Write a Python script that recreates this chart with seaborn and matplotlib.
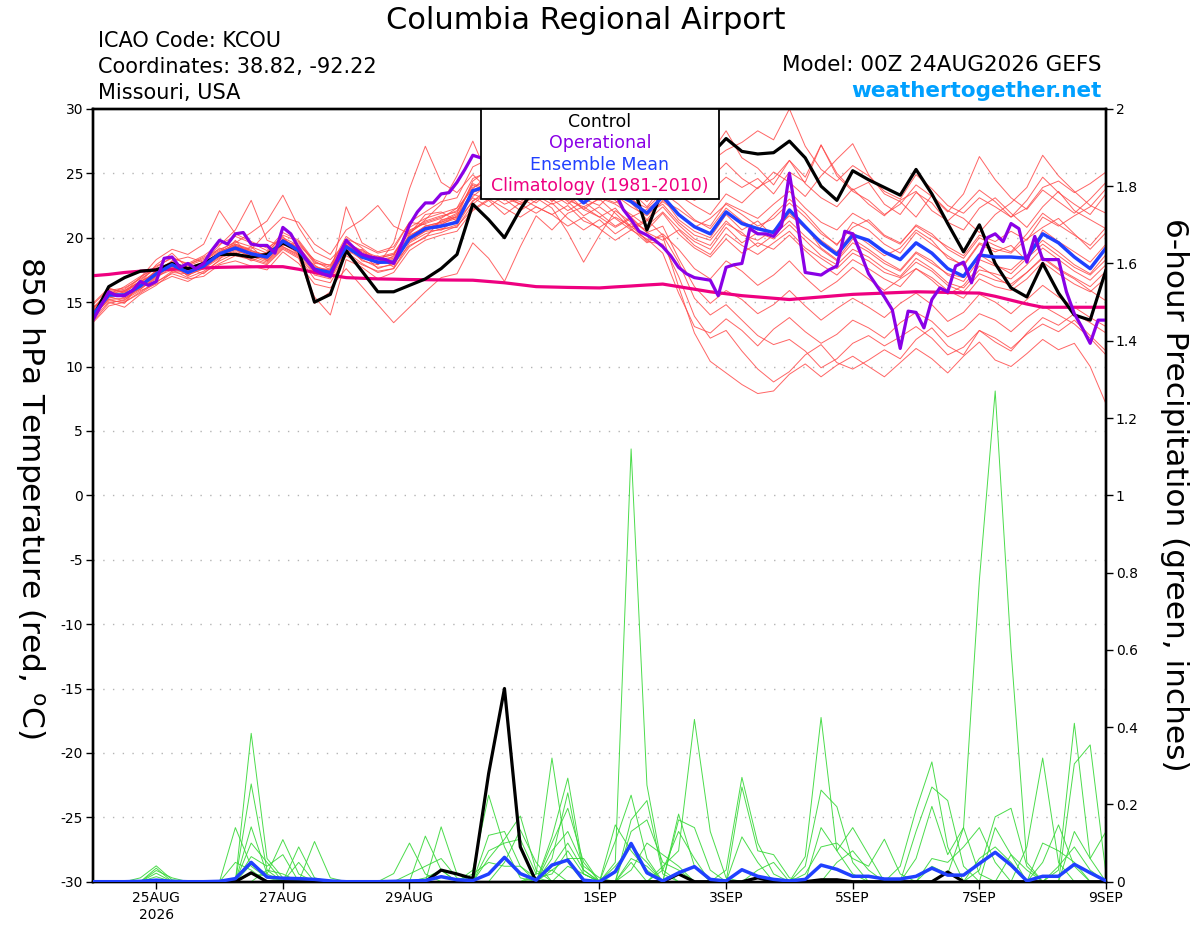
import numpy as np
import pandas as pd
import matplotlib
matplotlib.use("Agg")
import matplotlib.pyplot as plt
import seaborn as sns
from matplotlib.patches import Rectangle

# ------------------------------------------------------------------ data
run_start = "2026-08-24 00:00"
x_tick_dates = ["2026-08-25", "2026-08-27", "2026-08-29", "2026-09-01",
                "2026-09-03", "2026-09-05", "2026-09-07", "2026-09-09"]
x_tick_labels = ["25AUG\n2026", "27AUG", "29AUG", "1SEP", "3SEP", "5SEP", "7SEP", "9SEP"]
temp_ticks = [30, 25, 20, 15, 10, 5, 0, -5, -10, -15, -20, -25, -30]
temp_tick_labels = ["30", "25", "20", "15", "10", "5", "0", "-5", "-10", "-15", "-20", "-25", "-30"]
temp_grid = [25, 20, 15, 10, 5, 0, -5, -10, -15, -20, -25]
precip_ticks = [0, 0.2, 0.4, 0.6, 0.8, 1.0, 1.2, 1.4, 1.6, 1.8, 2.0]
precip_tick_labels = ["0", "0.2", "0.4", "0.6", "0.8", "1", "1.2", "1.4", "1.6", "1.8", "2"]

# 6-hourly control, ensemble mean, climatology (850 hPa temperature, C)
control_temp = [13.8, 16.2, 16.9, 17.4, 17.5, 18.0, 17.6, 18.0, 18.7, 18.7,
                18.5, 18.7, 19.6, 19.0, 15.0, 15.6, 19.0, 17.4, 15.8, 15.8,
                16.3, 16.8, 17.6, 18.7, 22.6, 21.4, 20.0, 22.2, 24.0, 25.0,
                24.6, 25.2, 25.6, 24.8, 24.6, 20.6, 23.8, 24.6, 25.6, 26.4,
                27.7, 26.7, 26.5, 26.6, 27.5, 26.2, 24.0, 22.9, 25.2, 24.5,
                23.9, 23.3, 25.3, 23.4, 21.1, 18.9, 21.0, 18.0, 16.1, 15.4,
                18.0, 15.7, 14.0, 13.6, 17.5]
mean_temp = [14.0, 15.55, 15.55, 16.25, 17.2, 17.9, 17.3, 17.8, 18.75, 19.2,
             18.75, 18.5, 19.75, 19.0, 17.55, 17.3, 19.3, 18.5, 18.1, 18.1,
             19.95, 20.7, 20.9, 21.2, 23.65, 24.0, 23.8, 24.2, 24.5, 24.0,
             23.8, 22.7, 23.6, 23.4, 22.8, 21.9, 23.2, 21.8, 20.85, 20.3,
             22.0, 21.1, 20.7, 20.4, 22.15, 20.85, 19.6, 18.7, 20.2, 19.8,
             18.9, 18.3, 19.6, 18.8, 17.6, 17.0, 18.65, 18.5, 18.5, 18.4,
             20.3, 19.6, 18.5, 17.6, 19.2]
clim_temp = [17.05, 17.15, 17.3, 17.4, 17.5, 17.55, 17.6, 17.65, 17.7, 17.72,
             17.74, 17.75, 17.75, 17.55, 17.3, 17.1, 16.9, 16.85, 16.8, 16.78,
             16.75, 16.74, 16.72, 16.71, 16.7, 16.6, 16.5, 16.35, 16.2, 16.17,
             16.14, 16.12, 16.1, 16.18, 16.25, 16.33, 16.4, 16.2, 16.0, 15.8,
             15.65, 15.5, 15.4, 15.3, 15.2, 15.3, 15.4, 15.5, 15.6, 15.65,
             15.7, 15.75, 15.8, 15.78, 15.75, 15.72, 15.7, 15.45, 15.15, 14.85,
             14.6, 14.6, 14.6, 14.6, 14.6]
# 3-hourly operational run
oper_temp = [13.6, 14.7, 15.8, 15.5, 15.5, 15.9, 16.6, 16.3, 16.6, 18.4,
             18.5, 17.7, 18.0, 17.6, 18.0, 19.0, 19.8, 19.5, 20.3, 20.4,
             19.5, 19.4, 19.4, 18.8, 20.8, 20.3, 19.2, 18.3, 17.5, 17.2,
             17.0, 18.5, 19.8, 19.2, 18.7, 18.5, 18.4, 18.3, 18.0, 19.5,
             21.0, 22.0, 22.7, 22.7, 23.4, 23.5, 24.3, 25.3, 26.4, 26.2,
             26.5, 26.8, 27.0, 26.4, 26.0, 26.6, 27.1, 27.4, 26.9, 26.3,
             25.8, 26.2, 25.7, 25.2, 24.8, 24.2, 23.5, 22.2, 21.4, 20.5,
             20.2, 19.8, 19.3, 18.6, 17.7, 17.2, 16.9, 16.8, 16.7, 15.5,
             17.7, 17.9, 18.0, 20.7, 20.3, 20.3, 20.1, 20.9, 25.0, 21.2,
             17.3, 17.2, 17.1, 17.5, 17.8, 20.5, 20.3, 18.8, 17.2, 16.3,
             15.4, 14.4, 11.4, 14.3, 14.2, 13.0, 15.2, 16.1, 15.8, 17.8,
             18.1, 16.5, 18.5, 20.0, 20.3, 19.7, 21.1, 20.7, 18.1, 20.1,
             18.3, 18.3, 18.3, 15.8, 14.1, 13.0, 11.8, 13.6, 13.6]

# ensemble members, 850 hPa temperature (6-hourly)
t_m01 = [14.2, 15.8, 16.0, 16.9, 17.8, 18.4, 18.0, 18.6, 19.5, 20.1, 19.6, 19.0, 20.4, 19.8, 18.2, 17.5, 19.9, 19.4, 18.8, 19.1, 21.2, 22.0, 22.8, 23.1,
         25.5, 26.1, 24.8, 25.9, 26.6, 25.4, 26.0, 24.9, 25.7, 26.3, 25.0, 24.1, 26.0, 25.2, 24.7, 25.9, 26.8,
         27.4, 28.3, 27.6, 30.0, 27.1, 25.3, 24.4, 25.6, 24.8, 23.6, 23.0, 24.9, 23.8, 22.5, 21.9, 23.1, 22.4, 21.6, 22.9, 24.7, 23.5, 22.6, 21.8, 23.4]
t_m02 = [14.6, 15.2, 14.9, 16.5, 17.9, 18.8, 17.6, 17.2, 18.3, 19.8, 18.4, 18.9, 20.1, 18.6, 17.1, 16.8, 18.7, 19.1, 17.9, 19.6, 23.8, 27.1, 24.3, 23.5,
         24.9, 23.7, 24.5, 25.8, 24.6, 26.2, 25.1, 23.9, 24.8, 25.5, 26.4, 25.1, 24.3, 26.1, 25.4, 26.5, 28.3,
         26.2, 25.4, 24.1, 26.0, 24.7, 27.2, 25.0, 23.7, 24.3, 22.6, 21.8, 23.5, 22.7, 21.2, 20.6, 22.3, 23.1, 21.9, 20.8, 22.4, 23.6, 22.1, 21.4, 20.7]
t_m03 = [13.6, 15.9, 15.3, 16.1, 16.8, 18.2, 18.5, 18.1, 19.2, 18.7, 19.3, 18.2, 19.4, 19.6, 18.0, 17.9, 19.8, 18.4, 18.6, 17.7, 20.3, 21.4, 22.6, 24.8,
         27.5, 24.6, 25.3, 24.1, 25.6, 24.8, 23.6, 25.2, 24.4, 23.5, 24.9, 23.8, 25.4, 24.2, 23.1, 24.6, 25.8,
         24.6, 23.8, 25.1, 24.3, 23.2, 24.8, 26.1, 27.3, 24.9, 23.4, 22.8, 21.6, 23.3, 22.1, 21.5, 20.4, 21.8, 22.7, 23.9, 26.4, 24.8, 23.6, 22.5, 21.9]
t_m04 = [14.3, 15.6, 16.2, 17.0, 17.6, 17.4, 17.9, 18.5, 19.1, 19.6, 20.4, 21.3, 23.3, 20.8, 18.9, 18.3, 19.6, 19.0, 18.5, 18.8, 20.6, 21.1, 21.5, 22.3,
         23.8, 24.9, 23.6, 24.4, 23.9, 22.8, 23.7, 24.5, 23.2, 22.7, 23.6, 22.4, 24.0, 23.3, 22.5, 21.8, 23.4,
         22.7, 23.9, 24.6, 26.0, 24.2, 23.1, 22.4, 23.8, 22.6, 21.7, 22.9, 23.6, 22.1, 21.3, 22.4, 23.7, 22.8, 21.6, 22.3, 23.9, 24.4, 23.5, 24.2, 25.1]
t_m05 = [14.8, 16.0, 15.8, 16.9, 18.3, 19.1, 18.7, 19.5, 22.1, 20.3, 19.7, 19.2, 20.0, 19.4, 18.3, 17.8, 20.1, 19.2, 18.2, 18.4, 19.7, 20.5, 21.3, 21.9,
         24.1, 23.5, 22.9, 23.8, 24.3, 23.4, 22.6, 23.5, 24.1, 23.3, 22.4, 21.7, 22.8, 21.9, 20.8, 21.5, 22.6,
         21.8, 20.9, 21.5, 22.7, 21.6, 20.3, 19.5, 20.8, 21.4, 20.2, 19.6, 20.9, 20.1, 19.3, 18.6, 20.2, 19.7, 20.5, 19.8, 21.6, 20.9, 21.7, 22.4, 23.8]
t_m06 = [13.9, 15.4, 15.1, 16.3, 17.5, 18.1, 17.0, 18.2, 19.4, 20.6, 22.9, 19.8, 19.3, 18.7, 17.9, 16.9, 19.0, 18.8, 17.6, 18.0, 19.4, 20.0, 21.4, 21.6,
         23.2, 24.2, 23.1, 22.6, 23.5, 24.6, 23.3, 22.8, 23.6, 22.9, 21.6, 22.2, 23.1, 21.4, 20.5, 20.0, 21.8,
         20.6, 21.3, 20.1, 21.9, 20.7, 19.8, 18.9, 20.4, 19.5, 18.6, 19.2, 20.6, 19.8, 18.4, 17.9, 19.6, 19.1, 18.8, 19.9, 20.8, 21.5, 20.3, 19.1, 20.4]
t_m07 = [14.1, 15.7, 15.9, 16.6, 17.3, 17.6, 17.8, 18.3, 18.9, 19.5, 19.1, 20.4, 21.6, 21.2, 19.5, 18.7, 20.6, 21.4, 22.5, 20.9, 20.3, 21.8, 22.0, 21.3,
         22.8, 23.9, 24.6, 23.4, 22.7, 23.8, 24.3, 23.0, 22.5, 23.7, 23.1, 21.9, 22.6, 21.2, 20.2, 19.8, 21.3,
         20.2, 19.8, 20.6, 21.7, 20.9, 19.2, 18.3, 19.9, 19.1, 18.2, 17.5, 18.9, 18.2, 17.1, 16.6, 18.3, 17.8, 17.5, 18.6, 19.8, 18.9, 17.9, 17.2, 18.7]
t_m08 = [13.8, 15.3, 15.6, 16.0, 16.9, 17.7, 17.1, 17.6, 18.4, 18.9, 18.2, 18.7, 19.6, 19.1, 17.6, 17.0, 22.4, 19.6, 18.9, 19.3, 21.2, 21.0, 20.6, 21.4,
         23.4, 22.9, 23.7, 24.5, 23.8, 22.9, 23.4, 22.2, 23.1, 22.6, 21.8, 20.9, 22.0, 20.7, 19.7, 19.1, 20.8,
         19.6, 20.4, 19.9, 21.0, 19.8, 18.6, 17.9, 19.1, 18.5, 17.6, 17.0, 18.4, 17.6, 16.5, 16.1, 17.5, 17.2, 16.8, 17.9, 19.2, 18.3, 17.4, 16.7, 17.9]
t_m09 = [14.4, 15.8, 15.4, 16.4, 17.1, 17.9, 17.5, 17.9, 18.6, 19.3, 18.9, 18.3, 19.9, 19.2, 17.4, 17.6, 19.5, 18.2, 17.9, 18.6, 20.8, 21.5, 21.9, 22.3,
         24.6, 25.1, 24.2, 23.6, 24.8, 25.3, 24.0, 23.1, 24.3, 23.8, 22.9, 22.3, 23.5, 22.6, 21.4, 20.7, 22.3,
         21.3, 20.6, 21.8, 23.0, 21.9, 20.5, 19.4, 21.2, 20.6, 19.5, 18.8, 20.4, 19.5, 18.6, 17.8, 19.5, 18.9, 19.4, 18.2, 20.6, 19.7, 18.9, 18.1, 19.5]
t_m10 = [14.0, 15.1, 15.0, 15.8, 16.6, 17.2, 16.8, 17.0, 17.9, 18.2, 17.8, 17.5, 18.9, 18.0, 16.4, 16.1, 17.6, 16.2, 14.8, 13.4, 14.6, 15.8, 16.9, 17.2,
         19.6, 18.4, 16.6, 19.3, 21.7, 20.6, 21.9, 22.4, 21.6, 20.8, 21.5, 20.4, 19.8, 20.6, 19.4, 18.7, 20.3,
         19.4, 18.7, 19.6, 20.5, 19.2, 18.4, 17.6, 18.8, 18.2, 17.3, 16.9, 18.1, 17.4, 16.3, 15.8, 17.2, 16.7, 16.4, 17.3, 18.5, 17.6, 16.9, 16.2, 17.4]
t_m11 = [13.5, 14.9, 15.2, 15.9, 16.4, 17.0, 16.6, 17.3, 18.0, 18.6, 18.3, 17.9, 19.1, 18.4, 15.4, 14.0, 18.3, 17.7, 16.8, 17.3, 19.0, 19.8, 20.2, 20.5,
         22.1, 22.9, 21.8, 22.7, 23.1, 22.3, 20.4, 18.1, 20.2, 22.1, 21.2, 20.6, 21.9, 20.3, 19.2, 18.5, 19.9,
         18.8, 19.6, 19.1, 20.2, 19.0, 17.9, 17.1, 18.3, 17.6, 16.8, 16.2, 17.6, 16.9, 15.9, 15.3, 16.8, 16.2, 15.9, 16.8, 18.1, 17.2, 16.4, 15.8, 16.9]
t_m12 = [13.7, 15.0, 14.6, 15.6, 16.3, 17.3, 17.2, 17.7, 18.5, 19.0, 18.6, 18.1, 19.3, 18.6, 14.9, 15.8, 18.9, 18.0, 17.3, 17.6, 19.6, 20.3, 20.7, 20.8,
         22.6, 23.6, 23.0, 22.1, 22.9, 23.7, 22.8, 21.7, 22.4, 21.5, 20.6, 21.3, 22.4, 21.0, 19.9, 19.4, 21.1,
         20.4, 19.3, 20.2, 21.3, 20.1, 19.1, 18.2, 19.6, 18.9, 18.0, 17.4, 18.8, 18.0, 17.2, 16.9, 18.7, 17.9, 17.2, 18.4, 19.5, 18.6, 17.7, 17.1, 18.3]
t_m13 = [14.2, 15.4, 15.7, 16.2, 17.0, 17.8, 17.1, 17.6, 18.6, 19.1, 18.5, 18.4, 19.5, 18.8, 17.2, 16.9, 19.1, 18.3, 17.7, 17.9, 19.8, 20.5, 20.6, 21.0,
         22.9, 23.4, 22.6, 23.1, 22.4, 21.8, 22.5, 21.3, 20.8, 21.6, 20.9, 19.8, 20.1, 16.2, 12.6, 10.4, 9.5,
         8.6, 7.9, 8.1, 9.4, 10.2, 9.2, 10.1, 10.8, 10.0, 9.2, 10.3, 11.4, 10.6, 9.5, 10.8, 11.9, 10.5, 10.0, 11.0, 12.1, 11.3, 11.8, 10.0, 7.1]
t_m14 = [13.4, 14.7, 15.0, 15.7, 16.5, 17.4, 17.4, 18.0, 18.8, 19.4, 19.0, 18.6, 19.8, 19.3, 17.8, 17.4, 19.2, 18.6, 18.0, 18.2, 20.1, 20.9, 21.2, 21.8,
         23.1, 22.4, 23.3, 22.6, 21.9, 22.7, 21.5, 20.6, 21.4, 20.3, 21.1, 19.7, 19.5, 17.0, 13.9, 12.2, 12.8,
         11.2, 9.8, 8.8, 9.6, 10.9, 11.7, 10.3, 9.8, 10.5, 11.3, 10.6, 12.1, 13.0, 11.6, 10.9, 12.8, 12.2, 11.4, 12.5, 13.3, 12.7, 13.6, 12.4, 11.2]
t_m15 = [14.9, 16.1, 15.7, 16.7, 17.7, 18.5, 17.9, 18.4, 19.0, 19.7, 19.3, 18.8, 20.2, 19.7, 18.1, 17.7, 19.7, 18.9, 18.4, 18.7, 20.4, 21.2, 21.6, 22.1,
         23.9, 24.5, 23.7, 24.2, 23.3, 22.6, 23.1, 22.2, 21.6, 22.3, 20.8, 21.4, 20.2, 18.1, 15.3, 14.0, 14.8,
         13.6, 12.4, 11.7, 12.1, 11.2, 9.9, 10.6, 11.8, 12.4, 11.6, 12.3, 13.1, 12.2, 10.9, 11.5, 12.8, 11.9, 11.2, 12.6, 13.8, 13.2, 14.1, 13.4, 12.6]
t_m16 = [13.9, 15.2, 15.3, 16.0, 17.0, 17.5, 16.9, 17.4, 18.2, 18.8, 18.4, 18.0, 19.2, 18.5, 16.8, 16.5, 18.6, 17.9, 17.4, 17.6, 19.3, 20.1, 20.4, 20.9,
         22.2, 23.0, 22.3, 21.6, 22.4, 21.8, 20.9, 21.6, 20.7, 19.8, 20.6, 19.9, 18.8, 15.7, 13.1, 12.6, 13.7,
         12.8, 11.6, 12.9, 13.8, 12.7, 11.8, 12.5, 13.6, 13.0, 12.2, 13.4, 14.2, 13.5, 12.3, 12.9, 14.1, 13.6, 12.7, 13.8, 14.7, 14.0, 13.3, 12.2, 10.9]
t_m17 = [14.5, 15.9, 16.1, 16.8, 17.6, 18.0, 17.7, 18.1, 18.8, 19.3, 18.8, 18.2, 19.6, 19.0, 17.5, 17.2, 19.4, 18.7, 18.3, 18.5, 20.2, 20.8, 21.1, 21.5,
         23.5, 24.0, 23.2, 22.8, 23.6, 23.0, 22.1, 22.8, 21.9, 20.9, 21.6, 20.4, 20.9, 18.4, 16.2, 14.9, 15.9,
         15.2, 14.1, 14.8, 15.9, 14.7, 13.6, 14.5, 15.3, 14.6, 13.8, 14.9, 15.7, 14.8, 13.5, 14.2, 15.6, 15.0, 14.1, 15.2, 16.3, 15.4, 14.6, 13.8, 13.1]
t_m18 = [14.0, 15.5, 15.8, 16.5, 17.4, 18.2, 17.5, 18.0, 18.9, 19.5, 19.0, 18.6, 19.8, 19.2, 17.6, 17.3, 19.6, 18.8, 18.4, 18.7, 20.5, 21.3, 21.7, 22.0,
         24.2, 23.7, 24.4, 23.8, 23.1, 23.9, 22.9, 22.4, 23.0, 21.9, 20.7, 19.6, 20.3, 19.1, 17.6, 16.8, 18.2,
         17.4, 16.3, 17.1, 18.2, 16.9, 15.8, 16.6, 17.7, 16.8, 15.9, 16.8, 17.6, 16.7, 15.6, 16.3, 17.8, 17.0, 16.2, 17.3, 18.4, 17.5, 16.8, 15.9, 15.1]
t_m19 = [14.3, 15.7, 15.5, 16.3, 17.4, 18.0, 17.4, 17.9, 18.8, 19.4, 18.9, 18.7, 19.9, 19.1, 17.7, 17.5, 19.5, 18.6, 18.2, 18.3, 20.0, 20.9, 21.2, 21.6,
         24.4, 25.3, 24.1, 24.9, 25.6, 24.5, 25.2, 23.8, 24.7, 25.1, 23.9, 22.8, 24.2, 23.5, 22.9, 23.6, 24.7,
         23.9, 24.6, 23.4, 25.1, 24.3, 27.2, 24.8, 23.6, 22.9, 21.8, 22.6, 24.1, 23.2, 22.0, 23.4, 26.3, 24.5, 23.1, 22.2, 23.7, 22.8, 21.9, 23.0, 24.3]
t_m20 = [14.6, 15.6, 15.9, 16.6, 17.2, 17.8, 17.6, 18.0, 18.7, 19.1, 18.7, 18.4, 19.6, 19.0, 17.3, 17.1, 19.4, 18.5, 18.0, 18.2, 20.0, 20.6, 21.0, 21.7,
         23.6, 24.4, 23.8, 24.7, 24.0, 23.2, 24.1, 23.3, 22.9, 23.8, 22.7, 21.4, 22.9, 22.2, 21.3, 20.9, 22.7,
         22.1, 21.5, 22.6, 23.6, 22.3, 21.2, 20.6, 21.9, 21.2, 20.1, 19.5, 21.0, 20.3, 19.1, 18.4, 20.0, 19.4, 18.9, 20.3, 21.9, 21.0, 20.2, 19.4, 20.8]

# 6-hour precipitation (inches): control and ensemble mean
control_precip = [0, 0, 0, 0, 0, 0, 0, 0, 0, 0,
                  .023, 0, 0, 0, 0, 0, 0, 0, 0, 0,
                  0, 0, .03, .02, .008, .28, .5, .09, 0, 0,
                  0, 0, 0, 0, 0, 0, 0, .02, 0, 0,
                  0, 0, .01, 0, 0, 0, .005, .005, 0, 0,
                  0, 0, 0, 0, .025, 0, 0, 0, 0, 0,
                  0, 0, 0, 0, 0]
mean_precip = [0, 0, 0, .001, .004, .001, 0, 0, .001, .008,
               .05, .012, .009, .008, .006, .002, 0, 0, 0, .001,
               .002, .003, .013, .005, .003, .02, .063, .021, .004, .043,
               .056, .004, 0, .026, .099, .023, .002, .023, .039, .006,
               .002, .031, .014, .006, .002, .006, .043, .032, .014, .014,
               .007, .007, .014, .035, .017, .017, .047, .076, .043, .002,
               .014, .014, .045, .023, .002]

# ensemble member precipitation: {6-hour step: inches}, all other steps are 0
p_m01 = {3: .01, 4: .041, 5: .005, 11: .03, 12: .02, 33: .05, 34: 1.12, 35: .25, 36: .03, 57: .14, 58: .07}
p_m02 = {4: .035, 10: .02, 11: .015, 33: .147, 34: .08, 35: .03, 56: .06, 57: .09, 58: .05}
p_m03 = {4: .029, 5: .01, 19: .021, 20: .1, 21: .02, 33: .105, 34: .224, 35: .06, 59: .09, 60: .32, 61: .05}
p_m04 = {4: .022, 21: .118, 22: .03, 34: .16, 35: .21, 36: .02, 60: .05, 61: .147, 62: .04}
p_m05 = {4: .013, 22: .142, 23: .02, 34: .13, 35: .16, 36: .05, 37: .03, 61: .03, 62: .41, 63: .06}
p_m06 = {9: .14, 10: .04, 11: .01, 24: .03, 25: .224, 26: .09, 27: .01, 40: .03, 41: .27, 42: .1, 43: .02, 62: .305, 63: .354, 64: .02}
p_m07 = {10: .384, 11: .06, 12: .01, 25: .12, 26: .13, 27: .04, 41: .245, 42: .08, 43: .07, 44: .01, 62: .13, 63: .06, 64: .13}
p_m08 = {10: .253, 11: .03, 25: .06, 26: .11, 27: .17, 28: .03, 41: .116, 42: .05, 60: .1, 61: .08, 62: .05}
p_m09 = {10: .142, 11: .02, 12: .109, 13: .02, 26: .05, 27: .134, 28: .05, 42: .03, 43: .05, 45: .065, 46: .425, 47: .08, 48: .02}
p_m10 = {10: .1, 11: .05, 13: .09, 14: .01, 25: .08, 26: .1, 27: .11, 28: .02, 29: .03, 45: .04, 46: .237, 47: .194, 48: .05}
p_m11 = {10: .065, 11: .04, 12: .07, 14: .104, 15: .01, 28: .02, 29: .32, 30: .05, 46: .14, 47: .08, 48: .14, 49: .07}
p_m12 = {10: .045, 11: .02, 13: .05, 29: .116, 30: .268, 31: .03, 45: .02, 46: .09, 47: .1, 48: .06, 49: .04, 50: .11, 51: .02}
p_m13 = {9: .05, 10: .03, 29: .06, 30: .23, 31: .02, 47: .05, 48: .08, 49: .03}
p_m14 = {20: .02, 21: .04, 22: .06, 23: .01, 29: .1, 30: .19, 31: .05, 51: .04, 52: .186, 53: .31, 54: .09}
p_m15 = {21: .01, 22: .03, 29: .08, 30: .13, 31: .04, 32: .01, 52: .13, 53: .245, 54: .21, 55: .04}
p_m16 = {24: .02, 25: .05, 26: .04, 27: .04, 28: .01, 33: .04, 34: .09, 35: .05, 37: .175, 38: .04, 52: .06, 53: .195, 54: .07, 55: .14, 56: .02}
p_m17 = {29: .04, 30: .1, 31: .03, 34: .06, 35: .04, 37: .16, 38: .14, 39: .03, 53: .06, 54: .05, 55: .09, 56: .14, 57: .05}
p_m18 = {29: .03, 30: .06, 31: .06, 36: .04, 37: .08, 38: .42, 39: .13, 40: .01, 58: .07, 59: .03, 61: .04, 62: .09, 63: .03}
p_m19 = {30: .04, 31: .02, 34: .05, 36: .03, 37: .13, 38: .06, 53: .04, 54: .02, 55: .14, 56: .78, 57: 1.27, 58: .6, 59: .05}
p_m20 = {28: .01, 29: .02, 30: .08, 31: .02, 34: .03, 35: .1, 36: .07, 37: .04, 56: .03, 57: .168, 58: .19, 59: .04}

legend_labels = ["Control", "Operational", "Ensemble Mean", "Climatology (1981-2010)"]
legend_colors = ["#000000", "#8a00e6", "#2040ff", "#ee0080"]

# ------------------------------------------------------------------ frames
times6 = pd.date_range(run_start, periods=len(control_temp), freq="6h")
times3 = pd.date_range(run_start, periods=len(oper_temp), freq="3h")

temp_members = [t_m01, t_m02, t_m03, t_m04, t_m05, t_m06, t_m07, t_m08, t_m09, t_m10,
                t_m11, t_m12, t_m13, t_m14, t_m15, t_m16, t_m17, t_m18, t_m19, t_m20]
precip_members = [p_m01, p_m02, p_m03, p_m04, p_m05, p_m06, p_m07, p_m08, p_m09, p_m10,
                  p_m11, p_m12, p_m13, p_m14, p_m15, p_m16, p_m17, p_m18, p_m19, p_m20]

df_temp = pd.concat([pd.DataFrame({"time": times6, "temp": m, "member": k})
                     for k, m in enumerate(temp_members)], ignore_index=True)
prec_frames = []
for k, d in enumerate(precip_members):
    vals = np.zeros(len(times6))
    for step, v in d.items():
        vals[step] = v
    prec_frames.append(pd.DataFrame({"time": times6, "precip": vals, "member": k}))
df_prec = pd.concat(prec_frames, ignore_index=True)

# ------------------------------------------------------------------ figure
sns.set_theme(style="white")
plt.rcParams["font.family"] = ["DejaVu Sans"]
plt.rcParams["axes.unicode_minus"] = False
plt.rcParams["mathtext.fontset"] = "dejavusans"
plt.rcParams["text.color"] = "black"

W, H = 1200, 927
fig = plt.figure(figsize=(W / 100, H / 100), dpi=100)
fig.patch.set_facecolor("white")
L, R, T, B = 92.9, 1106.0, 108.9, 881.7
ax = fig.add_axes([L / W, 1 - B / H, (R - L) / W, (B - T) / H])
ax2 = ax.twinx()

for g in temp_grid:
    ax.axhline(g, color="#b4b4b4", lw=1.0, linestyle=(0, (1, 6)), zorder=0.5)

# temperature
sns.lineplot(data=df_temp, x="time", y="temp", units="member", estimator=None,
             color="#ff4a4a", linewidth=0.7, alpha=0.85, ax=ax, legend=False, zorder=2)
sns.lineplot(x=times6, y=clim_temp, color=legend_colors[3], linewidth=2.3, ax=ax, zorder=3)
sns.lineplot(x=times6, y=control_temp, color=legend_colors[0], linewidth=2.3, ax=ax, zorder=4)
sns.lineplot(x=times6, y=mean_temp, color=legend_colors[2], linewidth=2.5, ax=ax, zorder=5)
sns.lineplot(x=times3, y=oper_temp, color=legend_colors[1], linewidth=2.3, ax=ax, zorder=6)

# precipitation
sns.lineplot(data=df_prec, x="time", y="precip", units="member", estimator=None,
             color="#38d838", linewidth=0.7, alpha=0.9, ax=ax2, legend=False, zorder=2)
sns.lineplot(x=times6, y=control_precip, color="#000000", linewidth=2.3, ax=ax2, zorder=4)
sns.lineplot(x=times6, y=mean_precip, color=legend_colors[2], linewidth=2.5, ax=ax2, zorder=5)

ax.set_xlim(times6[0], times6[-1])
ax.set_ylim(-30, 30)
ax2.set_ylim(0, 2)
ax.set_xlabel("")
ax.set_ylabel("")
ax2.set_xlabel("")
ax2.set_ylabel("")

ax.set_xticks(pd.to_datetime(x_tick_dates), labels=x_tick_labels)
ax.set_yticks(temp_ticks, labels=temp_tick_labels)
ax2.set_yticks(precip_ticks, labels=precip_tick_labels)

ax.tick_params(axis="x", bottom=True, direction="out", length=5, width=1,
               labelsize=10, pad=2, colors="black")
ax.tick_params(axis="y", left=True, direction="out", length=5, width=1,
               labelsize=10, pad=2, colors="black")
ax2.tick_params(axis="y", right=True, direction="out", length=5, width=1,
                labelsize=10, pad=2, colors="black")

for a in (ax, ax2):
    for s in a.spines.values():
        s.set_visible(True)
        s.set_color("black")
        s.set_linewidth(1.7)

# axis titles
fig.text(30 / W, 1 - 497 / H, r"850 hPa Temperature (red, $^{\mathrm{o}}$C)",
         rotation=270, ha="center", va="center", fontsize=22.5, color="black")
fig.text(1175 / W, 1 - 495 / H, "6-hour Precipitation (green, inches)",
         rotation=270, ha="center", va="center", fontsize=22.5, color="black")

# header texts
fig.text(586 / W, 1 - 29 / H, "Columbia Regional Airport", ha="center",
         va="baseline", fontsize=22, color="black")
info = ["ICAO Code: KCOU", "Coordinates: 38.82, -92.22", "Missouri, USA"]
for txt, yb in zip(info, [47, 73, 99]):
    fig.text(98 / W, 1 - yb / H, txt, ha="left", va="baseline", fontsize=15, color="black")
fig.text(1102 / W, 1 - 71 / H, "Model: 00Z 24AUG2026 GEFS", ha="right",
         va="baseline", fontsize=15.5, color="black")
fig.text(1102 / W, 1 - 97 / H, "weathertogether.net", ha="right",
         va="baseline", fontsize=15.5, fontweight="bold", color="#00a0ff")

# legend box
lx0, lx1, ly0, ly1 = 480.7, 719.3, 109.3, 199.0
fig.add_artist(Rectangle((lx0 / W, 1 - ly1 / H), (lx1 - lx0) / W, (ly1 - ly0) / H,
                         transform=fig.transFigure, facecolor="white",
                         edgecolor="black", linewidth=1.3, zorder=20))
for lab, col, yb in zip(legend_labels, legend_colors, [127, 148, 169.5, 191]):
    fig.text(600 / W, 1 - yb / H, lab, color=col, ha="center", va="baseline",
             fontsize=12.5, zorder=21)

fig.savefig("out.png", dpi=100, facecolor="white")
